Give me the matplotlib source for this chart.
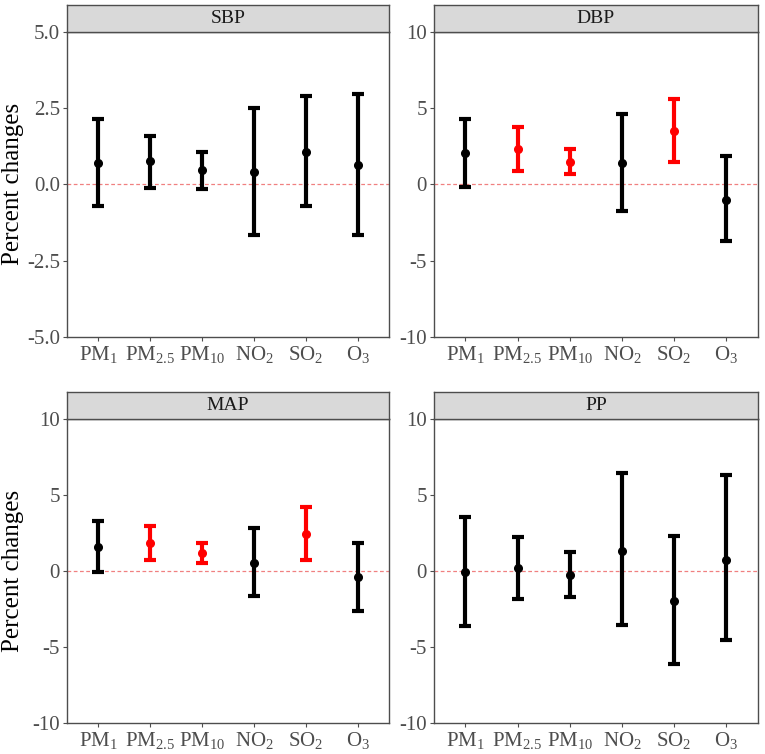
import matplotlib
matplotlib.use("Agg")
import matplotlib.pyplot as plt
import numpy as np

plt.rcParams['font.family'] = ['Liberation Serif', 'DejaVu Serif']
plt.rcParams['mathtext.fontset'] = 'custom'
plt.rcParams['mathtext.rm'] = 'Liberation Serif'
plt.rcParams['mathtext.it'] = 'Liberation Serif'

pollutants = [r'PM$_1$', r'PM$_{2.5}$', r'PM$_{10}$', r'NO$_2$', r'SO$_2$', r'O$_3$']
outcomes = ['SBP', 'DBP', 'MAP', 'PP']

sbp_est = [0.71, 0.75, 0.48, 0.40, 1.06, 0.63]
sbp_lo = [-0.71, -0.11, -0.14, -1.65, -0.72, -1.65]
sbp_hi = [2.15, 1.60, 1.06, 2.50, 2.89, 2.97]

dbp_est = [2.03, 2.32, 1.47, 1.38, 3.52, -1.01]
dbp_lo = [-0.18, 0.90, 0.68, -1.75, 1.49, -3.70]
dbp_hi = [4.31, 3.74, 2.32, 4.64, 5.56, 1.86]

map_est = [1.57, 1.85, 1.20, 0.54, 2.44, -0.41]
map_lo = [-0.07, 0.72, 0.54, -1.66, 0.70, -2.61]
map_hi = [3.27, 2.98, 1.85, 2.81, 4.20, 1.85]

pp_est = [-0.09, 0.17, -0.28, 1.31, -1.96, 0.72]
pp_lo = [-3.62, -1.83, -1.72, -3.55, -6.08, -4.53]
pp_hi = [3.57, 2.24, 1.24, 6.41, 2.33, 6.30]

# significant (red) flags
sbp_sig = [False] * 6
dbp_sig = [False, True, True, False, True, False]
map_sig = [False, True, True, False, True, False]
pp_sig = [False] * 6

data = {
    'SBP': (sbp_est, sbp_lo, sbp_hi, sbp_sig),
    'DBP': (dbp_est, dbp_lo, dbp_hi, dbp_sig),
    'MAP': (map_est, map_lo, map_hi, map_sig),
    'PP': (pp_est, pp_lo, pp_hi, pp_sig),
}

W, H = 765, 754
fig = plt.figure(figsize=(W / 100, H / 100), dpi=100)

# panel boxes in pixels: (left, right, top, bottom)
boxes = {
    'SBP': (67, 389, 31.7, 337),
    'DBP': (434, 757.7, 31.7, 337),
    'MAP': (67, 389, 418.7, 723.3),
    'PP': (434, 757.7, 418.7, 723.3),
}
strip_h = 26.5
border_col = '#4D4D4D'
tick_col = '#4D4D4D'

for name in outcomes:
    l, r, t, b = boxes[name]
    ax = fig.add_axes([l / W, 1 - b / H, (r - l) / W, (b - t) / H])
    est, lo, hi, sig = data[name]
    x = np.arange(1, 7)
    ax.axhline(0, color='#F08080', lw=0.9, ls=(0, (3, 2)), zorder=1)
    for i in range(6):
        c = '#FF0000' if sig[i] else '#000000'
        ax.errorbar(x[i], est[i], yerr=[[est[i] - lo[i]], [hi[i] - est[i]]],
                    fmt='o', color=c, ecolor=c, elinewidth=3, capsize=4,
                    capthick=3, markersize=5.5, zorder=3)
    ax.set_xlim(0.4, 6.6)
    if name == 'SBP':
        ax.set_ylim(-5, 5)
        ax.set_yticks([-5, -2.5, 0, 2.5, 5])
        ax.set_yticklabels(['-5.0', '-2.5', '0.0', '2.5', '5.0'])
    else:
        ax.set_ylim(-10, 10)
        ax.set_yticks([-10, -5, 0, 5, 10])
        ax.set_yticklabels(['-10', '-5', '0', '5', '10'])
    ax.set_xticks(x)
    ax.set_xticklabels(pollutants)
    ax.tick_params(axis='both', colors=tick_col, labelcolor=tick_col,
                   labelsize=15, length=3, width=0.8, pad=2)
    for s in ax.spines.values():
        s.set_color(border_col)
        s.set_linewidth(1.0)
    if name in ('SBP', 'MAP'):
        ax.set_ylabel('Percent changes', fontsize=18, color='black')
        ax.yaxis.label.set_va('center')
        ax.yaxis.set_label_coords((13 - l) / (r - l), 0.5)
    # strip
    sax = fig.add_axes([l / W, 1 - t / H, (r - l) / W, strip_h / H])
    sax.set_facecolor('#D9D9D9')
    sax.set_xticks([])
    sax.set_yticks([])
    for s in sax.spines.values():
        s.set_color(border_col)
        s.set_linewidth(1.0)
    sax.text(0.5, 0.5, name, ha='center', va='center', fontsize=14,
             color='#1A1A1A', transform=sax.transAxes)

fig.savefig('out.png', dpi=100)
